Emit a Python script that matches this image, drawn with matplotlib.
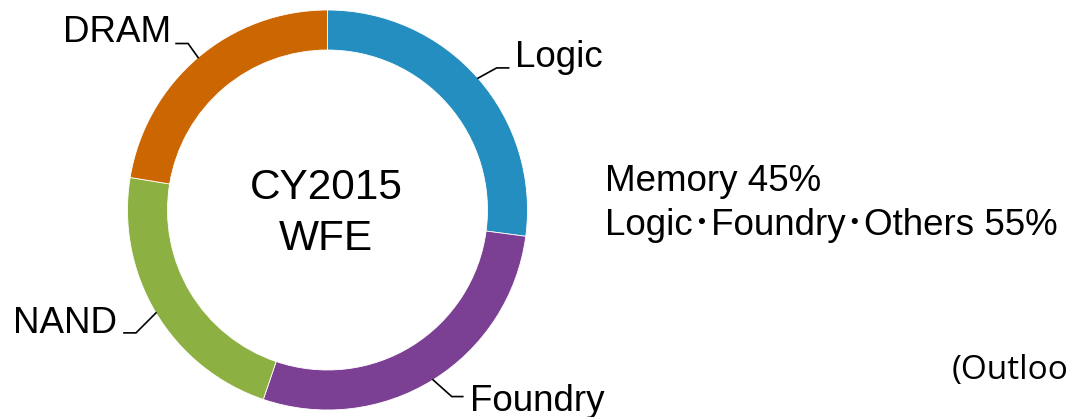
import numpy as np
import matplotlib
matplotlib.use("Agg")
import matplotlib.pyplot as plt

# ---- data ----
categories = ["Logic", "Foundry", "NAND", "DRAM"]
shares = [27.1, 28.1, 22.4, 22.4]
colors = ["#258EC0", "#7B3F93", "#8DB042", "#CC6600"]
center_lines = ["CY2015", "WFE"]
summary_lines = ["Memory 45%", "Logic･Foundry･Others 55%"]
note_text = "(Outlook)"

W, H = 1066, 417
fig = plt.figure(figsize=(W / 100, H / 100), dpi=100)
ax = fig.add_axes([0, 0, 1, 1])
ax.set_xlim(0, W)
ax.set_ylim(0, H)
ax.set_aspect("equal")
ax.axis("off")

FONT = ["Liberation Sans", "Noto Sans CJK JP", "DejaVu Sans"]

cx, cy = 327.5, H - 210
R = 200
wedges, _ = ax.pie(shares, colors=colors, startangle=90, counterclock=False,
                   radius=R, center=(cx, cy), frame=True,
                   wedgeprops=dict(width=40, edgecolor="white", linewidth=0.6))
ax.set_xlim(0, W)
ax.set_ylim(0, H)
ax.axis("off")

# label layout: elbow offset (px, y up), horizontal length, text x, text baseline (px from top)
label_layout = {
    "Logic":   dict(elbow=(18.7, 10.3), hlen=12, tx=515, ty=67, ha="left"),
    "Foundry": dict(elbow=(18.7, -16.7), hlen=11, tx=470, ty=411, ha="left"),
    "NAND":    dict(elbow=(-20, -20), hlen=-12, tx=117, ty=333, ha="right"),
    "DRAM":    dict(elbow=(-10, 14), hlen=-12, tx=171, ty=42, ha="right"),
}

for w, name in zip(wedges, categories):
    mid = np.deg2rad((w.theta1 + w.theta2) / 2)
    x0 = cx + R * np.cos(mid)
    y0 = cy + R * np.sin(mid)
    lay = label_layout[name]
    ex, ey = x0 + lay["elbow"][0], y0 + lay["elbow"][1]
    hx = ex + lay["hlen"]
    ax.plot([x0, ex, hx], [y0, ey, ey], color="black", lw=1.2,
            solid_joinstyle="miter", zorder=3)
    ax.text(lay["tx"], H - lay["ty"], name, ha=lay["ha"], va="baseline",
            fontsize=26.5, family=FONT)

# center text
ax.text(cx - 1.5, H - 198.5, center_lines[0], ha="center", va="baseline",
        fontsize=30.5, family=FONT)
ax.text(cx - 1.5, H - 249.5, center_lines[1], ha="center", va="baseline",
        fontsize=30.5, family=FONT)

# summary text
ax.text(605, H - 190.7, summary_lines[0], ha="left", va="baseline",
        fontsize=26.5, family=FONT)
ax.text(605, H - 235, summary_lines[1], ha="left", va="baseline",
        fontsize=26.5, family=FONT)

# note (runs past the right edge, as in the reference)
ax.text(952, H - 379, note_text, ha="left", va="baseline",
        fontsize=24, family=["Open Sans", "DejaVu Sans"])

fig.savefig("out.png", dpi=100, facecolor="white")
